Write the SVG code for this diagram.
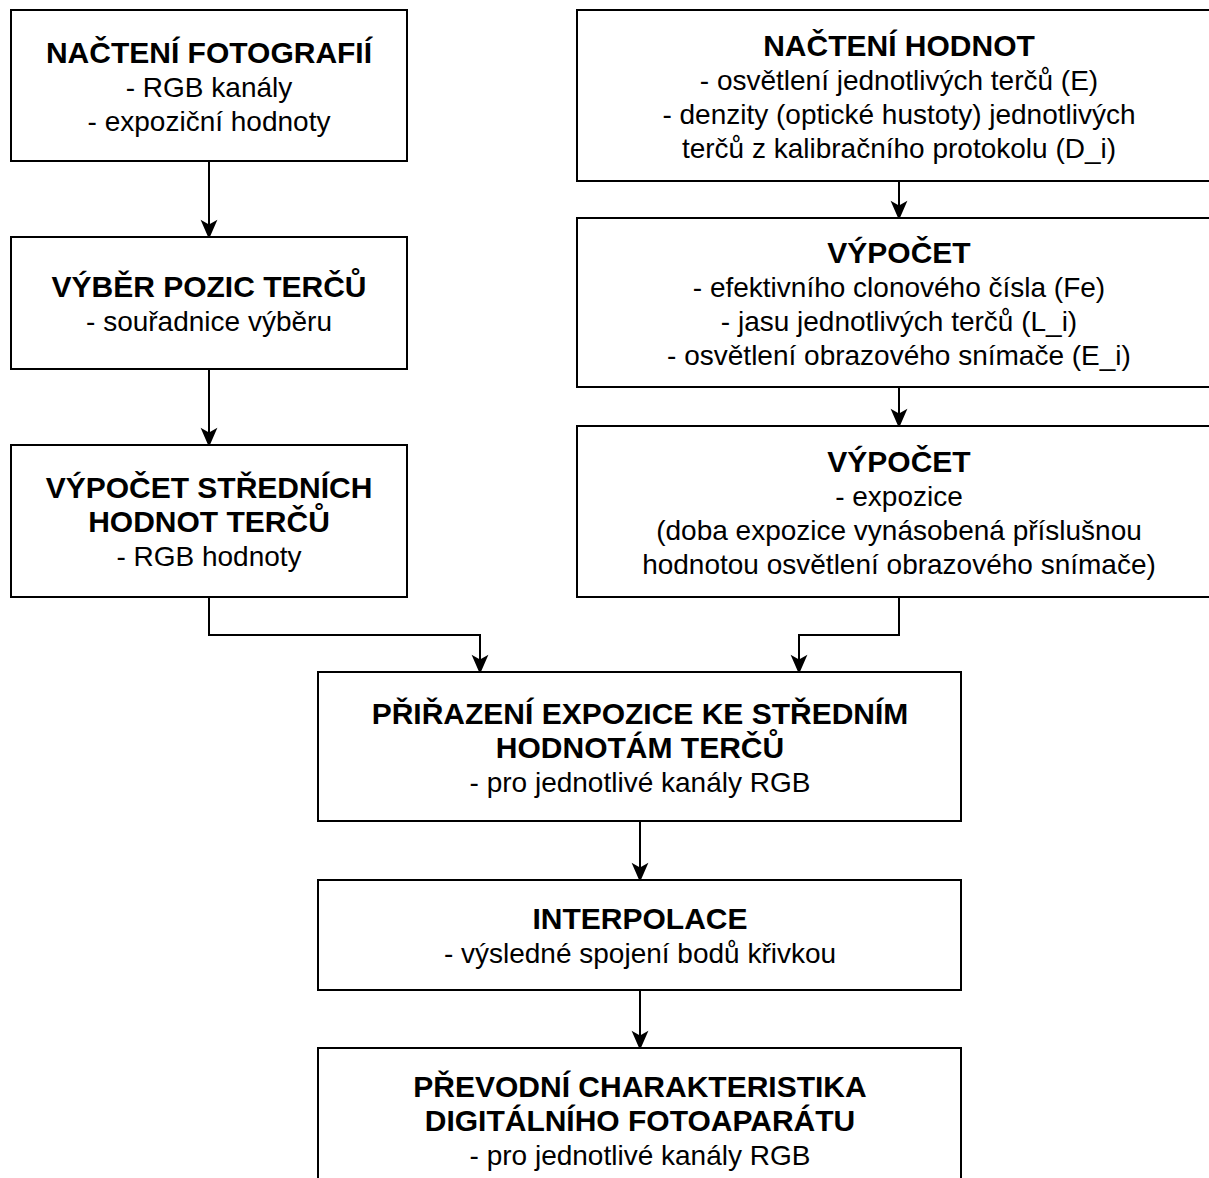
<svg xmlns="http://www.w3.org/2000/svg" width="1209" height="1178" viewBox="0 0 1209 1178">
  <style>
    .box { fill: #ffffff; stroke: #000000; stroke-width: 2; }
    .conn { fill: none; stroke: #000000; stroke-width: 2; }
    text { font-family: "Liberation Sans", Arial, sans-serif; fill: #000000; text-anchor: middle; }
    .t { font-size: 30px; font-weight: bold; }
    .s { font-size: 28px; }
  </style>
  <defs>
    <marker id="arrow" markerUnits="userSpaceOnUse" markerWidth="24" markerHeight="24" viewBox="-8 -10 20 20" refX="0" refY="0" orient="auto">
      <path d="M10,0 L-6,-7 L-2,0 L-6,7 Z" fill="#000000"/>
    </marker>
  </defs>
  <rect width="1209" height="1178" fill="#ffffff"/>

  <g id="connectors">
    <path class="conn" d="M209,161 V227" marker-end="url(#arrow)"/>
    <path class="conn" d="M209,369 V435" marker-end="url(#arrow)"/>
    <path class="conn" d="M899,181 V208" marker-end="url(#arrow)"/>
    <path class="conn" d="M899,387 V416" marker-end="url(#arrow)"/>
    <path class="conn" d="M209,597 V635 H480 V662" marker-end="url(#arrow)"/>
    <path class="conn" d="M899,597 V635 H799 V662" marker-end="url(#arrow)"/>
    <path class="conn" d="M640,821 V870" marker-end="url(#arrow)"/>
    <path class="conn" d="M640,990 V1038" marker-end="url(#arrow)"/>
  </g>

  <g id="node-nacteni-fotografii">
    <rect class="box" x="11" y="10" width="396" height="151"/>
    <text class="t" x="209" y="63">NAČTENÍ FOTOGRAFIÍ</text>
    <text class="s" x="209" y="97">- RGB kanály</text>
    <text class="s" x="209" y="131">- expoziční hodnoty</text>
  </g>

  <g id="node-vyber-pozic">
    <rect class="box" x="11" y="237" width="396" height="132"/>
    <text class="t" x="209" y="297">VÝBĚR POZIC TERČŮ</text>
    <text class="s" x="209" y="331">- souřadnice výběru</text>
  </g>

  <g id="node-vypocet-strednich">
    <rect class="box" x="11" y="445" width="396" height="152"/>
    <text class="t" x="209" y="498">VÝPOČET STŘEDNÍCH</text>
    <text class="t" x="209" y="532">HODNOT TERČŮ</text>
    <text class="s" x="209" y="566">- RGB hodnoty</text>
  </g>

  <g id="node-nacteni-hodnot">
    <rect class="box" x="577" y="10" width="644" height="171"/>
    <text class="t" x="899" y="55.5">NAČTENÍ HODNOT</text>
    <text class="s" x="899" y="89.5">- osvětlení jednotlivých terčů (E)</text>
    <text class="s" x="899" y="123.5">- denzity (optické hustoty) jednotlivých</text>
    <text class="s" x="899" y="157.5">terčů z kalibračního protokolu (D_i)</text>
  </g>

  <g id="node-vypocet-1">
    <rect class="box" x="577" y="218" width="644" height="169"/>
    <text class="t" x="899" y="262.5">VÝPOČET</text>
    <text class="s" x="899" y="296.5">- efektivního clonového čísla (Fe)</text>
    <text class="s" x="899" y="330.5">- jasu jednotlivých terčů (L_i)</text>
    <text class="s" x="899" y="364.5">- osvětlení obrazového snímače (E_i)</text>
  </g>

  <g id="node-vypocet-2">
    <rect class="box" x="577" y="426" width="644" height="171"/>
    <text class="t" x="899" y="471.5">VÝPOČET</text>
    <text class="s" x="899" y="505.5">- expozice</text>
    <text class="s" x="899" y="539.5">(doba expozice vynásobená příslušnou</text>
    <text class="s" x="899" y="573.5">hodnotou osvětlení obrazového snímače)</text>
  </g>

  <g id="node-prirazeni">
    <rect class="box" x="318" y="672" width="643" height="149"/>
    <text class="t" x="640" y="723.5">PŘIŘAZENÍ EXPOZICE KE STŘEDNÍM</text>
    <text class="t" x="640" y="757.5">HODNOTÁM TERČŮ</text>
    <text class="s" x="640" y="791.5">- pro jednotlivé kanály RGB</text>
  </g>

  <g id="node-interpolace">
    <rect class="box" x="318" y="880" width="643" height="110"/>
    <text class="t" x="640" y="929">INTERPOLACE</text>
    <text class="s" x="640" y="963">- výsledné spojení bodů křivkou</text>
  </g>

  <g id="node-prevodni">
    <rect class="box" x="318" y="1048" width="643" height="144"/>
    <text class="t" x="640" y="1097">PŘEVODNÍ CHARAKTERISTIKA</text>
    <text class="t" x="640" y="1131">DIGITÁLNÍHO FOTOAPARÁTU</text>
    <text class="s" x="640" y="1165">- pro jednotlivé kanály RGB</text>
  </g>
</svg>
